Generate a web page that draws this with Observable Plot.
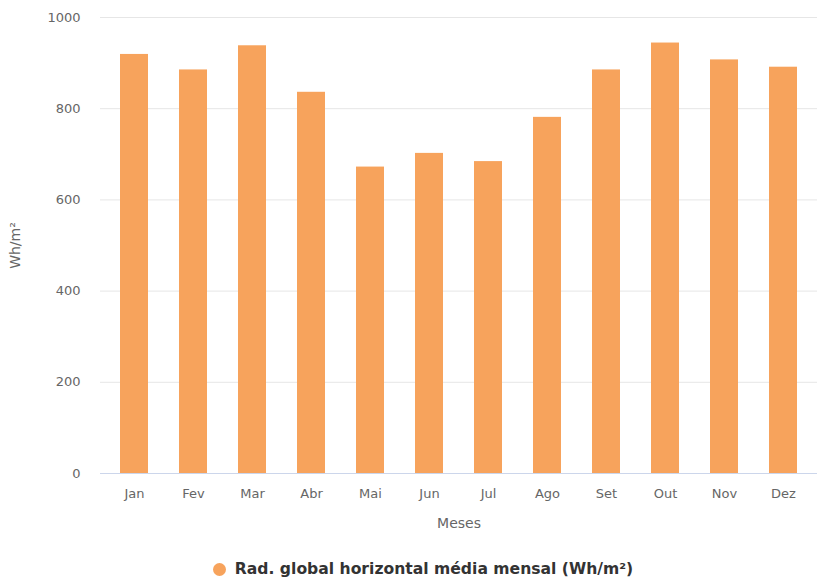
<!DOCTYPE html>
<html>
<head>
<meta charset="utf-8">
<script src="https://cdn.jsdelivr.net/npm/d3@7"></script>
<script src="https://cdn.jsdelivr.net/npm/@observablehq/plot@0.6"></script>
<style>
  html, body { margin: 0; padding: 0; background: #fff; }
  #chart { width: 818px; }
  .legend {
    display: flex; align-items: center; justify-content: center;
    margin-top: 25px; padding-left: 28px;
    font-family: "DejaVu Sans", Verdana, sans-serif; font-size: 15.6px; font-weight: bold; color: #333;
  }
  .legend .dot { width: 13px; height: 13px; border-radius: 50%; background: #f7a35c; margin-right: 9px; }
</style>
</head>
<body>
<div id="chart"></div>
<script>
// Monthly mean global horizontal irradiation (Wh/m²)
const months = ["Jan", "Fev", "Mar", "Abr", "Mai", "Jun", "Jul", "Ago", "Set", "Out", "Nov", "Dez"];
const radiation = [919, 885, 938, 836, 672, 702, 684, 781, 885, 944, 907, 891];
const yTicks = [0, 200, 400, 600, 800, 1000];
const seriesName = "Rad. global horizontal média mensal (Wh/m²)";

const data = months.map((m, i) => ({month: m, value: radiation[i]}));

const chart = Plot.plot({
  width: 818,
  height: 535,
  marginLeft: 100,
  marginRight: 1,
  marginTop: 17,
  marginBottom: 62,
  style: {fontFamily: "DejaVu Sans, Verdana, sans-serif", fontSize: "13px", color: "#666"},
  x: {domain: months, paddingInner: 0.53, paddingOuter: 0.265, label: null},
  y: {domain: [0, 1000], label: null},
  marks: [
    Plot.gridY(yTicks, {stroke: "#e6e6e6", strokeOpacity: 1}),
    Plot.barY(data, {x: "month", y: "value", fill: "#f7a35c"}),
    Plot.ruleY([0], {stroke: "#ccd6eb"}),
    Plot.axisY({
      ticks: yTicks, tickFormat: d => String(d), tickSize: 0, tickPadding: 20, fill: "#666",
      label: "Wh/m²", labelAnchor: "center", labelOffset: 90, labelArrow: "none"
    }),
    Plot.axisX({
      tickSize: 0, tickPadding: 15, fill: "#666",
      label: "Meses", labelAnchor: "center", labelOffset: 54, labelArrow: "none"
    })
  ]
});

// axis titles are a little larger than the tick labels
chart.querySelectorAll("[aria-label='y-axis label'], [aria-label='x-axis label']").forEach(g => {
  g.setAttribute("font-size", "14px");
});

document.getElementById("chart").append(chart);

const legend = document.createElement("div");
legend.className = "legend";
legend.innerHTML = `<span class="dot"></span><span></span>`;
legend.lastChild.textContent = seriesName;
document.getElementById("chart").append(legend);
</script>
</body>
</html>
